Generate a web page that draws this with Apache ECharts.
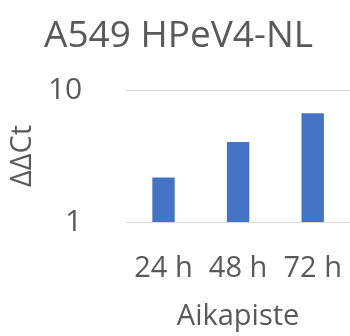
<!DOCTYPE html>
<html>
<head>
<meta charset="utf-8">
<script src="https://cdn.jsdelivr.net/npm/echarts@6/dist/echarts.min.js"></script>
<style>
  html, body { margin: 0; padding: 0; background: #ffffff; }
  #chart { width: 350px; height: 336px; }
</style>
</head>
<body>
<div id="chart"></div>
<script>
// Time points and fold-change values (ΔΔCt), log scale
const categories = ['24 h', '48 h', '72 h'];
const ddct = [2.17, 4.04, 6.66];
const yTicks = [1, 10];

const FONT = '"Open Sans", "Noto Sans", sans-serif';
const GREY = '#595959';

const chart = echarts.init(document.getElementById('chart'), null, { renderer: 'canvas' });
chart.setOption({
  backgroundColor: '#ffffff',
  animation: false,
  title: {
    text: 'A549 HPeV4-NL',
    left: 39,
    top: 13,
    textStyle: { fontFamily: FONT, fontSize: 37, fontWeight: 'normal', color: GREY }
  },
  grid: { left: 123, right: -1, top: 90, bottom: 114, containLabel: false },
  xAxis: {
    type: 'category',
    data: categories,
    name: 'Aikapiste',
    nameLocation: 'middle',
    nameGap: 80,
    nameTextStyle: { fontFamily: FONT, fontSize: 29, color: GREY },
    axisLine: { show: false },
    axisTick: { show: false },
    axisLabel: { fontFamily: FONT, fontSize: 29, color: GREY, margin: 32, interval: 0, hideOverlap: false }
  },
  yAxis: {
    type: 'log',
    logBase: 10,
    min: yTicks[0],
    max: yTicks[yTicks.length - 1],
    name: 'ΔΔCt',
    nameLocation: 'middle',
    nameGap: 83,
    nameRotate: 90,
    nameTextStyle: { fontFamily: FONT, fontSize: 29, color: GREY },
    axisLine: { show: false },
    axisTick: { show: false },
    axisLabel: { fontFamily: FONT, fontSize: 30, color: GREY, margin: 44 },
    splitLine: { show: true, lineStyle: { color: '#d9d9d9', width: 1 } },
    minorSplitLine: { show: false }
  },
  series: [{
    type: 'bar',
    data: ddct,
    barWidth: '30%',
    itemStyle: { color: '#4472C4' }
  }]
});
</script>
</body>
</html>
